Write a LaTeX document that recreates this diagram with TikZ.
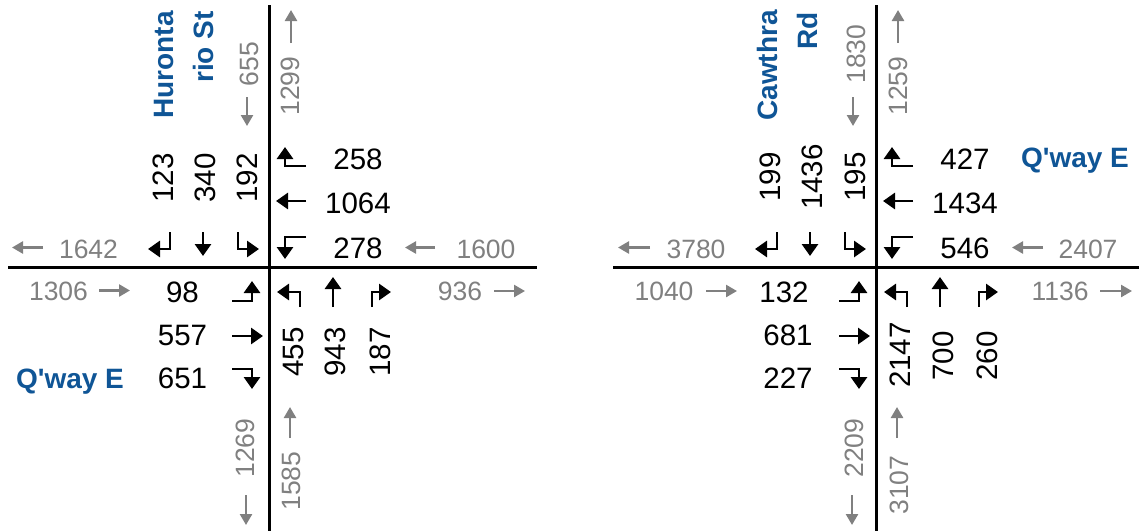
\documentclass[tikz,border=0pt]{standalone}
\usepackage{fontspec}
\newfontfamily\lsans{Liberation Sans}
\usetikzlibrary{arrows.meta}
\definecolor{roadblue}{RGB}{15,85,150}
\definecolor{volgray}{RGB}{128,128,128}
\begin{document}
\begin{tikzpicture}[x=1pt,y=-1pt,
  road/.style={line width=3pt},
  vol/.style={inner sep=0pt,anchor=base,font=\lsans\fontsize{29.5}{30}\selectfont},
  tot/.style={inner sep=0pt,anchor=base,text=volgray,font=\lsans\fontsize{26.5}{27}\selectfont},
  streetname/.style={inner sep=0pt,text=roadblue,font=\lsans\bfseries\fontsize{28}{29}\selectfont},
  rotup/.style={rotate=90},
  lane/.style={line width=2.9pt,-{Triangle[width=16pt,length=12pt]}},
  totarrow/.style={volgray,line width=2.5pt,-{Triangle[width=12pt,length=11pt]}}]
\useasboundingbox (0,0) rectangle (1139,531);
% ================= left intersection =================
\coordinate (Lw) at (8,267.5);
\coordinate (Le) at (537,267.5);
\coordinate (Ln) at (269.5,5);
\coordinate (Ls) at (269.5,531);
\draw[road] (Lw) -- (Le);
\draw[road] (Ln) -- (Ls);
% street names
\node[streetname,rotup,anchor=base east] (Lst1) at (173,11) {Huronta};
\node[streetname,rotup,anchor=base east] (Lst2) at (213,11) {rio St};
\node[streetname,anchor=base] (Lqw) at (70,388) {Q'way E};
% totals
\node[tot,rotup] (Lnin) at (258,64) {655};
\coordinate (Lnina) at (247,97); \coordinate (Lninb) at (247,126);
\draw[totarrow] (Lnina) -- (Lninb);
\node[tot,rotup] (Lnout) at (299,86) {1299};
\coordinate (Lnouta) at (291,43); \coordinate (Lnoutb) at (291,10);
\draw[totarrow] (Lnouta) -- (Lnoutb);
\node[tot,rotup] (Lsout) at (254,448) {1269};
\coordinate (Lsouta) at (246,495); \coordinate (Lsoutb) at (246,525);
\draw[totarrow] (Lsouta) -- (Lsoutb);
\node[tot,rotup] (Lsin) at (300,481) {1585};
\coordinate (Lsina) at (290,438); \coordinate (Lsinb) at (290,407);
\draw[totarrow] (Lsina) -- (Lsinb);
\node[tot] (Lwout) at (88.5,258) {1642};
\coordinate (Lwouta) at (43,247.5); \coordinate (Lwoutb) at (12,247.5);
\draw[totarrow] (Lwouta) -- (Lwoutb);
\node[tot] (Lwin) at (58.5,300) {1306};
\coordinate (Lwina) at (99,290.5); \coordinate (Lwinb) at (130,290.5);
\draw[totarrow] (Lwina) -- (Lwinb);
\node[tot] (Lein) at (486,258) {1600};
\coordinate (Leina) at (435,247.5); \coordinate (Leinb) at (405,247.5);
\draw[totarrow] (Leina) -- (Leinb);
\node[tot] (Leout) at (460,300) {936};
\coordinate (Leouta) at (494,291); \coordinate (Leoutb) at (525,291);
\draw[totarrow] (Leouta) -- (Leoutb);
% southbound
\node[vol,rotup] (Lsbl) at (173,178) {123};
\node[vol,rotup] (Lsbt) at (215,178) {340};
\node[vol,rotup] (Lsbr) at (257,178) {192};
\draw[lane] (170,232) -- (170,249) -- (148,249);
\draw[lane] (203,232) -- (203,256);
\draw[lane] (238,232) -- (238,249) -- (259,249);
% westbound
\node[vol] (Lwbr) at (358,169) {258};
\node[vol] (Lwbt) at (358,213) {1064};
\node[vol] (Lwbl) at (358,258) {278};
\draw[lane] (306,166) -- (285,166) -- (285,147);
\draw[lane] (306,201) -- (276,201);
\draw[lane] (306,237) -- (285,237) -- (285,259);
% eastbound
\node[vol] (Lebl) at (182.5,302) {98};
\node[vol] (Lebt) at (182.5,345) {557};
\node[vol] (Lebr) at (182.5,388) {651};
\draw[lane] (232,301) -- (252,301) -- (252,281);
\draw[lane] (232,336) -- (263,336);
\draw[lane] (232,369) -- (252,369) -- (252,389);
% northbound
\node[vol,rotup] (Lnbl) at (303,352) {455};
\node[vol,rotup] (Lnbt) at (345,352) {943};
\node[vol,rotup] (Lnbr) at (390,352) {187};
\draw[lane] (300,307) -- (300,292) -- (277,292);
\draw[lane] (333,307) -- (333,277);
\draw[lane] (372,307) -- (372,292) -- (391,292);
% ================= right intersection =================
\coordinate (Rw) at (613,267.5);
\coordinate (Re) at (1139,267.5);
\coordinate (Rn) at (876.5,5);
\coordinate (Rs) at (876.5,531);
\draw[road] (Rw) -- (Re);
\draw[road] (Rn) -- (Rs);
\node[streetname,rotup,anchor=base east] (Rst1) at (777,10) {Cawthra};
\node[streetname,rotup,anchor=base east] (Rst2) at (817,12) {Rd};
\node[streetname,anchor=base] (Rqw) at (1075,167) {Q'way E};
\node[tot,rotup] (Rnin) at (865,54) {1830};
\coordinate (Rnina) at (853,97); \coordinate (Rninb) at (853,126);
\draw[totarrow] (Rnina) -- (Rninb);
\node[tot,rotup] (Rnout) at (907,86) {1259};
\coordinate (Rnouta) at (898,43); \coordinate (Rnoutb) at (898,10);
\draw[totarrow] (Rnouta) -- (Rnoutb);
\node[tot,rotup] (Rsout) at (863,448) {2209};
\coordinate (Rsouta) at (852,495); \coordinate (Rsoutb) at (852,525);
\draw[totarrow] (Rsouta) -- (Rsoutb);
\node[tot,rotup] (Rsin) at (908,485) {3107};
\coordinate (Rsina) at (897,438); \coordinate (Rsinb) at (897,407);
\draw[totarrow] (Rsina) -- (Rsinb);
\node[tot] (Rwout) at (696,258) {3780};
\coordinate (Rwouta) at (650,247.5); \coordinate (Rwoutb) at (618,247.5);
\draw[totarrow] (Rwouta) -- (Rwoutb);
\node[tot] (Rwin) at (664,300) {1040};
\coordinate (Rwina) at (706,291); \coordinate (Rwinb) at (737,291);
\draw[totarrow] (Rwina) -- (Rwinb);
\node[tot] (Rein) at (1088,258) {2407};
\coordinate (Reina) at (1043,247.5); \coordinate (Reinb) at (1012,247.5);
\draw[totarrow] (Reina) -- (Reinb);
\node[tot] (Reout) at (1060,300) {1136};
\coordinate (Reouta) at (1100,291); \coordinate (Reoutb) at (1132,291);
\draw[totarrow] (Reouta) -- (Reoutb);
\begin{scope}[xshift=607pt]
% southbound
\node[vol,rotup] (Rsbl) at (173,177) {199};
\node[vol,rotup] (Rsbt) at (215,177) {1436};
\node[vol,rotup] (Rsbr) at (258,177) {195};
\draw[lane] (170,232) -- (170,249) -- (148,249);
\draw[lane] (203,232) -- (203,256);
\draw[lane] (238,232) -- (238,249) -- (259,249);
% westbound
\node[vol] (Rwbr) at (358,169) {427};
\node[vol] (Rwbt) at (358,213) {1434};
\node[vol] (Rwbl) at (358,258) {546};
\draw[lane] (306,166) -- (285,166) -- (285,147);
\draw[lane] (306,201) -- (276,201);
\draw[lane] (306,237) -- (285,237) -- (285,259);
% eastbound
\node[vol] (Rebl) at (177,302) {132};
\node[vol] (Rebt) at (181,345) {681};
\node[vol] (Rebr) at (181,388) {227};
\draw[lane] (232,301) -- (252,301) -- (252,281);
\draw[lane] (232,336) -- (263,336);
\draw[lane] (232,369) -- (252,369) -- (252,389);
% northbound
\node[vol,rotup] (Rnbl) at (303,355) {2147};
\node[vol,rotup] (Rnbt) at (346,356) {700};
\node[vol,rotup] (Rnbr) at (390,356) {260};
\draw[lane] (300,307) -- (300,292) -- (277,292);
\draw[lane] (333,307) -- (333,277);
\draw[lane] (372,307) -- (372,292) -- (391,292);
\end{scope}
\end{tikzpicture}
\end{document}
